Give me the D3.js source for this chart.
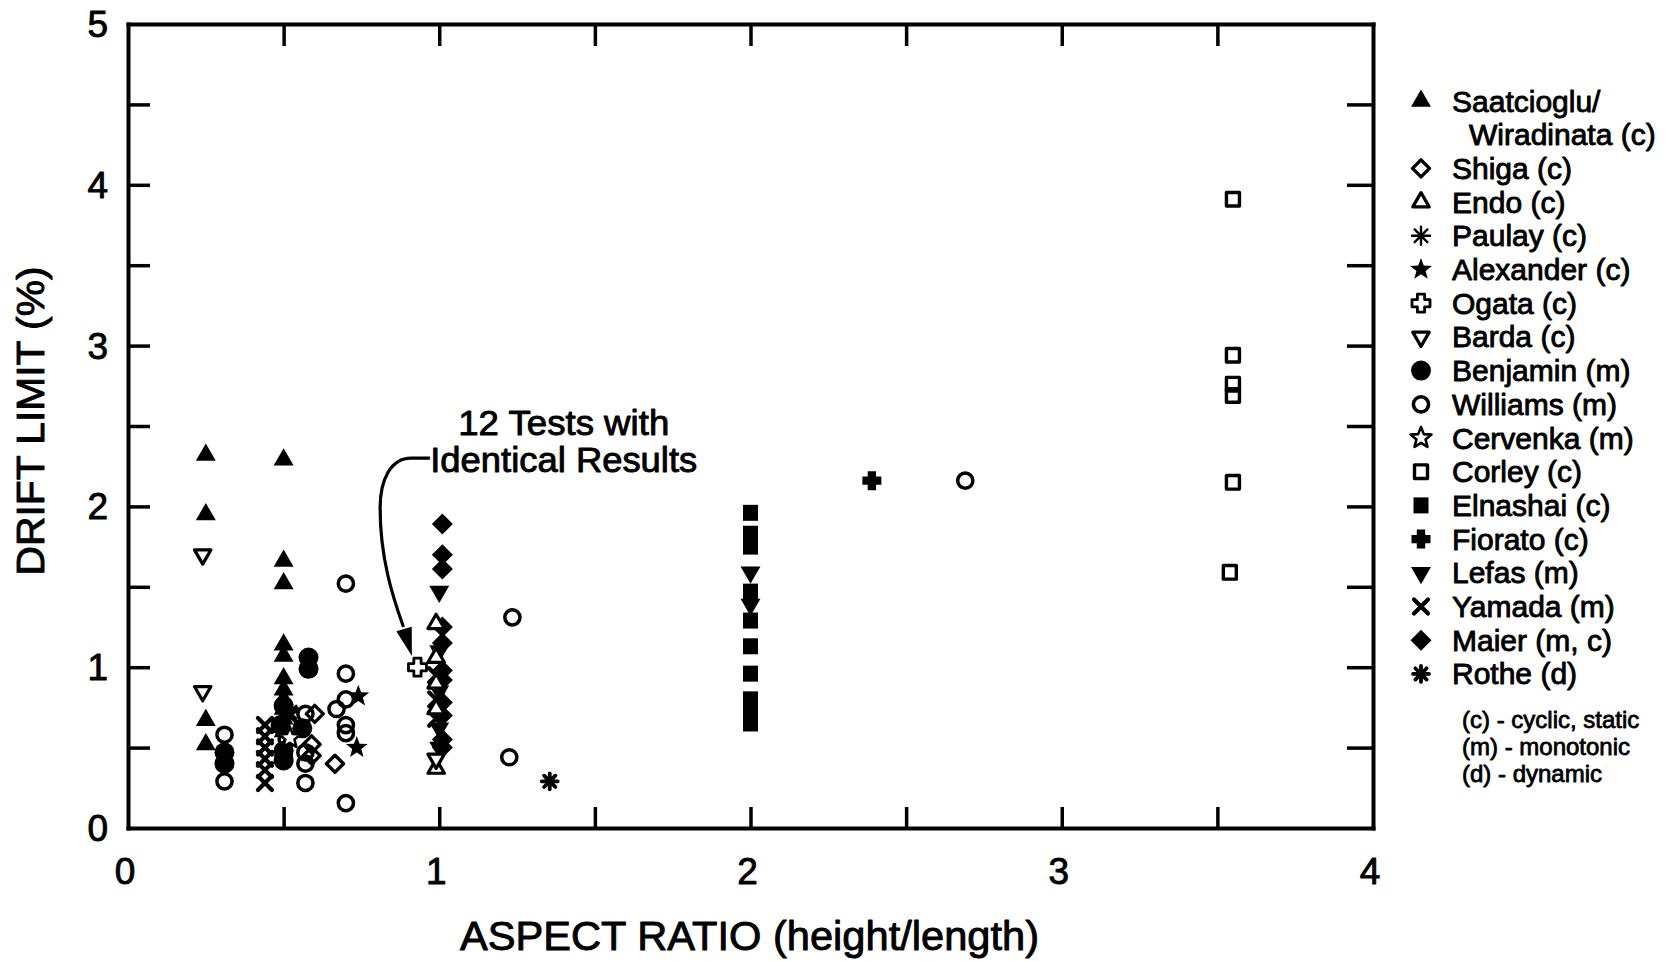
<!DOCTYPE html>
<html><head><meta charset="utf-8">
<script src="https://cdn.jsdelivr.net/npm/d3@7"></script>
<style>html,body{margin:0;padding:0;background:#fff}svg{display:block}</style>
</head><body>
<svg id="chart" width="1673" height="961"></svg>
<script>
// ---------- data ----------
const xTickLabels = [0, 1, 2, 3, 4];
const yTickLabels = [0, 1, 2, 3, 4, 5];
const xMinorTicks = [0.5, 1, 1.5, 2, 2.5, 3, 3.5];
const yMinorTicks = [0.5, 1, 1.5, 2, 2.5, 3, 3.5, 4, 4.5];

const saatcioglu = [[0.25,2.32],[0.25,1.95],[0.25,0.67],[0.25,0.52],
  [0.50,2.29],[0.50,1.66],[0.50,1.52],[0.50,1.14],[0.50,1.07],[0.50,0.93],[0.50,0.86],
  [0.50,0.80],[0.50,0.74],[0.50,0.68],[0.50,0.60],[0.50,0.48]];
const shiga = [[0.60,0.71],[0.59,0.52],[0.59,0.45],[0.665,0.40]];
const endo = [[0.99,1.27],[0.99,1.06],[0.99,0.90],[0.99,0.74],[0.99,0.37]];
const paulay = [[0.52,0.72]];
const alexander = [[0.74,0.82],[0.735,0.50]];
const ogata = [[0.93,1.00]];
const barda = [[0.24,1.70],[0.24,0.85],[0.99,0.43]];
const benjamin = [[0.31,0.47],[0.31,0.40],[0.58,1.06],[0.58,0.99],[0.50,0.76],[0.49,0.64],
  [0.50,0.48],[0.50,0.42],[0.56,0.62]];
const williams = [[0.31,0.58],[0.31,0.29],[0.51,0.55],[0.57,0.71],[0.57,0.47],[0.57,0.40],
  [0.57,0.28],[0.70,1.52],[0.70,0.96],[0.70,0.80],[0.67,0.74],[0.70,0.64],[0.70,0.59],
  [0.70,0.155],[1.235,1.31],[1.225,0.44],[2.69,2.16]];
const cervenka = [[0.52,0.56]];
const corley = [[3.55,3.91],[3.55,2.94],[3.55,2.76],[3.55,2.69],[3.55,2.15],[3.54,1.59]];
const elnashai = [[2.00,1.96],[2.00,1.83],[2.00,1.75],[2.00,1.47],[2.00,1.29],[2.00,1.13],
  [2.00,0.96],[2.00,0.80],[2.00,0.73],[2.00,0.65]];
const fiorato = [[2.39,2.16]];
const lefas = [[2.00,1.59],[2.00,1.39],[1.00,1.47],[1.00,1.10],[1.00,0.85],[1.00,0.62],[1.00,0.50]];
const yamada = [[0.44,0.64],[0.44,0.57],[0.44,0.50],[0.44,0.43],[0.44,0.36],[0.44,0.28],
  [0.52,0.70],[0.99,0.95],[0.99,0.80],[0.99,0.68]];
const maier = [[1.01,1.89],[1.01,1.70],[1.01,1.61],[1.01,1.25],[1.01,1.15],[1.01,0.98],
  [1.01,0.92],[1.01,0.78],[1.01,0.70],[1.01,0.55],[1.01,0.50]];
const rothe = [[1.355,0.29]];

const seriesNames = ["Saatcioglu/", "Shiga (c)", "Endo (c)", "Paulay (c)", "Alexander (c)",
  "Ogata (c)", "Barda (c)", "Benjamin (m)", "Williams (m)", "Cervenka (m)", "Corley (c)",
  "Elnashai (c)", "Fiorato (c)", "Lefas (m)", "Yamada (m)", "Maier (m, c)", "Rothe (d)"];
const seriesSymbols = ["triUpFilled","diamondOpen","triUpOpen","asterisk","starFilled",
  "crossOpen","triDownOpen","circleFilled","circleOpen","starOpen","squareOpen",
  "squareFilled","crossFilled","triDownFilled","xMark","diamondFilled","asteriskBold"];
const seriesData = [saatcioglu, shiga, endo, paulay, alexander, ogata, barda, benjamin,
  williams, cervenka, corley, elnashai, fiorato, lefas, yamada, maier, rothe];
const legendSecondLine = "Wiradinata (c)";
const legendNotes = ["(c) - cyclic, static", "(m) - monotonic", "(d) - dynamic"];
const xTitle = "ASPECT RATIO (height/length)";
const yTitle = "DRIFT LIMIT (%)";
const noteLines = ["12 Tests with", "Identical Results"];

// ---------- layout ----------
const W = 1673, H = 961;
const FONT = "'Liberation Sans', Arial, Helvetica, sans-serif";
const x = d3.scaleLinear().domain([0, 4]).range([128, 1373]);
const y = d3.scaleLinear().domain([0, 5]).range([828, 24]);
const svg = d3.select("#chart");
svg.append("rect").attr("width", W).attr("height", H).attr("fill", "#fff");

// ---------- symbols ----------
function tri(R, dir) {
  return `M0,${-R*dir} L${0.866*R},${0.5*R*dir} L${-0.866*R},${0.5*R*dir}Z`;
}
function diamond(r) { return `M0,${-r} L${r},0 L0,${r} L${-r},0Z`; }
function rect(w, h) { return `M${-w},${-h} H${w} V${h} H${-w}Z`; }
function circ(r) { return `M${r},0 A${r},${r} 0 1,1 ${-r},0 A${r},${r} 0 1,1 ${r},0Z`; }
function star(R, r) {
  let p = [];
  for (let i = 0; i < 10; i++) {
    const a = (-90 + i * 36) * Math.PI / 180, rr = i % 2 ? r : R;
    p.push([rr * Math.cos(a), rr * Math.sin(a)]);
  }
  return "M" + p.map(q => q[0].toFixed(2) + "," + q[1].toFixed(2)).join("L") + "Z";
}
function plus(R, a) {
  const p = [[-a,-R],[a,-R],[a,-a],[R,-a],[R,a],[a,a],[a,R],[-a,R],[-a,a],[-R,a],[-R,-a],[-a,-a]];
  return "M" + p.map(q => q.join(",")).join("L") + "Z";
}
function xm(r) { return `M${-r},${-r} L${r},${r} M${r},${-r} L${-r},${r}`; }
function aster(r, n) {
  let s = "";
  for (let i = 0; i < n; i++) {
    const a = (90 + i * 180 / n) * Math.PI / 180;
    s += `M${(r*Math.cos(a)).toFixed(2)},${(r*Math.sin(a)).toFixed(2)} L${(-r*Math.cos(a)).toFixed(2)},${(-r*Math.sin(a)).toFixed(2)}`;
  }
  return s;
}
const SYM = {
  triUpFilled:  {d: tri(11.5, 1), fill: "#000", stroke: "none", sw: 0},
  diamondOpen:  {d: diamond(8.5), fill: "none", stroke: "#000", sw: 3.4},
  triUpOpen:    {d: tri(9.5, 1), fill: "#fff", stroke: "#000", sw: 3.2},
  asterisk:     {d: aster(9, 4), fill: "none", stroke: "#000", sw: 2.4},
  starFilled:   {d: star(11.5, 4.8), fill: "#000", stroke: "none", sw: 0},
  crossOpen:    {d: plus(9, 3.6), fill: "#fff", stroke: "#000", sw: 2.8},
  triDownOpen:  {d: tri(9.5, -1), fill: "#fff", stroke: "#000", sw: 3.2},
  circleFilled: {d: circ(10), fill: "#000", stroke: "none", sw: 0},
  circleOpen:   {d: circ(7.6), fill: "none", stroke: "#000", sw: 3.5},
  starOpen:     {d: star(11, 4.8), fill: "#fff", stroke: "#000", sw: 2.6},
  squareOpen:   {d: rect(6.5, 6.8), fill: "none", stroke: "#000", sw: 3.4},
  squareFilled: {d: rect(7.5, 8), fill: "#000", stroke: "none", sw: 0},
  crossFilled:  {d: plus(9.5, 4.2), fill: "#000", stroke: "none", sw: 0},
  triDownFilled:{d: tri(11.5, -1), fill: "#000", stroke: "none", sw: 0},
  xMark:        {d: xm(7), fill: "none", stroke: "#000", sw: 4.2},
  diamondFilled:{d: diamond(10.5), fill: "#000", stroke: "none", sw: 0},
  asteriskBold: {d: aster(8, 4), fill: "none", stroke: "#000", sw: 3.8}
};
function drawSym(g, type, cx, cy) {
  const s = SYM[type];
  g.append("path").attr("d", s.d).attr("transform", `translate(${cx},${cy})`)
    .attr("fill", s.fill).attr("stroke", s.stroke).attr("stroke-width", s.sw)
    .attr("stroke-linejoin", "round").attr("stroke-linecap", "round");
}
function txt(g, str, px, py, size, anchor, sw) {
  return g.append("text").attr("x", px).attr("y", py).text(str)
    .attr("font-family", FONT).attr("font-size", size).attr("fill", "#000")
    .attr("stroke", "#000").attr("stroke-width", sw == null ? 0.9 : sw)
    .attr("stroke-linejoin", "round").attr("text-anchor", anchor || "start");
}

// ---------- axes (frame with inward ticks) ----------
function styleAxis(g) {
  g.select(".domain").attr("stroke", "#000").attr("stroke-width", 4).attr("stroke-linecap", "square");
  g.selectAll(".tick line").attr("stroke", "#000").attr("stroke-width", 3.5);
  g.selectAll(".tick text").remove();
}
svg.append("g").attr("transform", `translate(0,${y(0)})`)
  .call(d3.axisBottom(x).tickValues(xMinorTicks).tickSize(-21).tickSizeOuter(0)).call(styleAxis);
svg.append("g").attr("transform", `translate(0,${y(5)})`)
  .call(d3.axisTop(x).tickValues(xMinorTicks).tickSize(-22).tickSizeOuter(0)).call(styleAxis);
svg.append("g").attr("transform", `translate(${x(0)},0)`)
  .call(d3.axisLeft(y).tickValues(yMinorTicks).tickSize(-22).tickSizeOuter(0)).call(styleAxis);
svg.append("g").attr("transform", `translate(${x(4)},0)`)
  .call(d3.axisRight(y).tickValues(yMinorTicks).tickSize(-26).tickSizeOuter(0)).call(styleAxis);

// tick labels
const lab = svg.append("g");
xTickLabels.forEach(v => txt(lab, v, x(v) - 3, y(0) + 56, 37, "middle"));
yTickLabels.forEach(v => txt(lab, v, x(0) - 20, y(v) + 13, 37, "end"));

// axis titles
txt(svg, xTitle, (x(0) + x(4)) / 2 - 1, 950, 40, "middle")
  .attr("textLength", 579).attr("lengthAdjust", "spacingAndGlyphs");
txt(svg, yTitle, 0, 0, 38, "middle")
  .attr("transform", `translate(44,${(y(0) + y(5)) / 2 - 5}) rotate(-90)`)
  .attr("textLength", 309).attr("lengthAdjust", "spacingAndGlyphs");

// ---------- points ----------
const pts = svg.append("g");
const order = d3.range(seriesData.length).sort((a, b) => {
  const fa = SYM[seriesSymbols[a]].fill === "#fff" ? 1 : 0;
  const fb = SYM[seriesSymbols[b]].fill === "#fff" ? 1 : 0;
  return fa - fb || a - b;
});
order.forEach(i => {
  seriesData[i].forEach(d => drawSym(pts, seriesSymbols[i], x(d[0]), y(d[1])));
});

// ---------- annotation ----------
const ann = svg.append("g");
txt(ann, noteLines[0], x(1.40), y(2.445), 35, "middle").attr("textLength", 211).attr("lengthAdjust", "spacingAndGlyphs");
txt(ann, noteLines[1], x(1.40), y(2.215), 35, "middle").attr("textLength", 267).attr("lengthAdjust", "spacingAndGlyphs");
const P = (a, b) => [x(a), y(b)];
const p0 = P(0.97, 2.30), p1 = P(0.91, 2.30), c1 = P(0.845, 2.30), c2 = P(0.81, 2.17),
      p2 = P(0.81, 1.99), c3 = P(0.81, 1.68), c4 = P(0.85, 1.44), p3 = P(0.885, 1.25),
      tip = P(0.912, 1.07);
const path = d3.path();
path.moveTo(...p0); path.lineTo(...p1);
path.bezierCurveTo(...c1, ...c2, ...p2);
path.bezierCurveTo(...c3, ...c4, ...p3);
ann.append("path").attr("d", path.toString()).attr("fill", "none").attr("stroke", "#000").attr("stroke-width", 3.2);
{
  const dx = tip[0] - p3[0], dy = tip[1] - p3[1], L = Math.hypot(dx, dy);
  const ux = dx / L, uy = dy / L, bx = tip[0] - ux * 28, by = tip[1] - uy * 28;
  ann.append("path").attr("d", `M${tip[0]},${tip[1]} L${bx - uy * 8},${by + ux * 8} L${bx + uy * 8},${by - ux * 8}Z`)
    .attr("fill", "#000");
}

// ---------- legend ----------
const leg = svg.append("g");
const rowY = i => 101 + i * 33.7;
seriesNames.forEach((name, i) => {
  const row = i === 0 ? 0 : i + 1;
  drawSym(leg, seriesSymbols[i], 1421, rowY(row));
  txt(leg, name, 1452, rowY(row) + 10.5, 30);
});
txt(leg, legendSecondLine, 1469, rowY(1) + 10.5, 30);
legendNotes.forEach((t, i) => txt(leg, t, 1462, 720 + i * 27 + 8, 24, "start", 0.8));
</script>
</body></html>
